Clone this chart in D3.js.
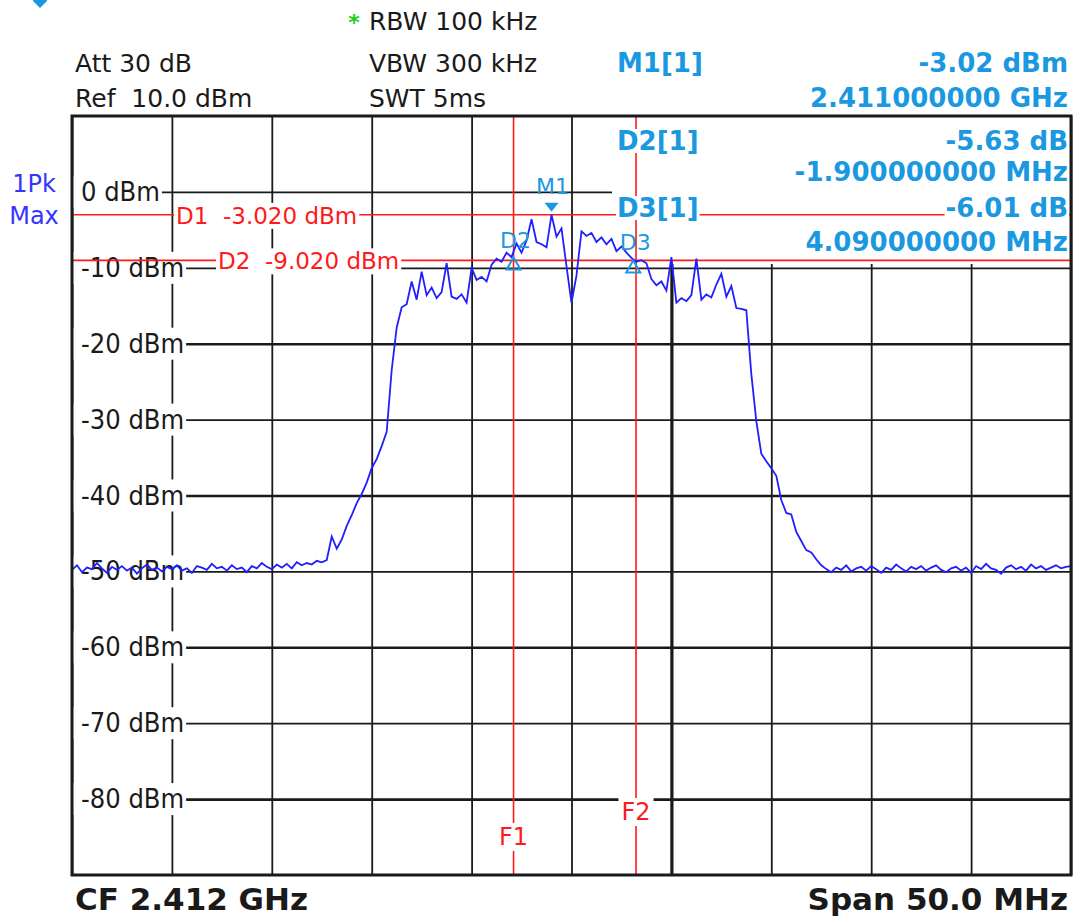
<!DOCTYPE html>
<html><head><meta charset="utf-8">
<script src="https://cdn.jsdelivr.net/npm/d3@7"></script>
<style>
html,body{margin:0;padding:0;background:#fff;}
svg{display:block;}
text{white-space:pre;}
</style></head><body>
<svg id="c" width="1077" height="918"></svg>
<script>
// ---------------- data ----------------
const sweepStartMHz = 2387;
const sweepStopMHz = 2437;
const sweepStepMHz = 0.25;
const traceLevels = [
-49.8,-49.2,-50.1,-49.5,-49.7,-48.9,-49.6,-50.2,-49.4,-49.8,
-49.3,-49.9,-49.5,-50.3,-49.6,-49.1,-49.8,-49.5,-50.0,-49.4,
-49.7,-49.2,-49.9,-49.6,-50.2,-49.3,-49.5,-49.8,-49.0,-49.6,
-49.4,-49.9,-49.2,-49.7,-49.5,-50.1,-49.3,-49.6,-48.9,-49.4,
-49.7,-49.1,-49.5,-49.0,-49.6,-48.8,-49.2,-48.9,
-49.1,-48.6,-48.8,-48.5,-45.4,-47.0,-45.8,-44.0,-42.6,-41.0,
-39.8,-38.3,-36.4,-35.2,-33.5,-31.6,-23.5,-17.9,-15.2,-14.8,
-11.8,-14.2,-10.5,-13.6,-12.6,-14.0,-13.2,-9.4,-13.8,-14.1,
-13.5,-14.6,-10.0,-11.6,-11.2,-11.8,-9.6,-8.8,-9.2,-8.0,
-8.6,-6.8,-8.0,-6.4,-3.6,-6.6,-6.9,-7.3,-3.02,-5.9,
-4.8,-9.8,-14.6,-11.0,-5.2,-5.8,-5.4,-6.6,-6.0,-6.9,
-6.2,-7.8,-7.2,-8.0,-8.7,-9.2,-9.0,-9.4,-11.5,-12.3,
-11.8,-13.0,-8.6,-14.6,-14.0,-14.4,-13.6,-8.8,-14.2,-13.5,
-13.9,-12.2,-10.8,-13.8,-12.4,-15.3,-15.4,-15.6,-24.0,-30.2,
-34.5,-35.5,-36.4,-37.4,-40.6,-42.3,-42.5,-44.8,-46.0,-47.2,
-47.5,-48.4,-49.2,-49.7,
-50.1,-49.5,-49.8,-49.2,-50.0,-49.6,-49.4,-49.9,-49.3,-49.7,
-50.2,-49.5,-49.8,-49.1,-49.6,-50.0,-49.4,-49.7,-49.3,-49.9,
-49.5,-49.2,-49.8,-50.1,-49.6,-49.4,-49.9,-49.5,-50.2,-49.3,
-49.7,-49.0,-49.6,-49.8,-50.3,-49.5,-49.2,-49.7,-49.4,-49.9,
-49.1,-49.6,-49.3,-49.8,-49.5,-49.2,-49.6,-49.4,-49.3
];
const refLevelDbm = 10;
const bottomLevelDbm = -90;
const yTickValues = [0,-10,-20,-30,-40,-50,-60,-70,-80];
const yTickLabels = ["0 dBm","-10 dBm","-20 dBm","-30 dBm","-40 dBm","-50 dBm","-60 dBm","-70 dBm","-80 dBm"];
const xGridMHz = [2387,2392,2397,2402,2407,2412,2417,2422,2427,2432,2437];
const displayLineNames = ["D1","D2"];
const displayLineLevels = [-3.02,-9.02];
const displayLineLabels = ["D1  -3.020 dBm","D2  -9.020 dBm"];
const freqLineNames = ["F1","F2"];
const freqLineMHz = [2409.1,2415.23];
const markerNames = ["M1","D2","D3"];
const markerMHz = [2411.0,2409.1,2415.09];
const markerLevels = [-3.02,-8.65,-9.03];
const headerLeft = ["Att 30 dB","Ref  10.0 dBm"];
const headerMid = ["RBW 100 kHz","VBW 300 kHz","SWT 5ms"];
const tableLeft = ["M1[1]","","D2[1]","","D3[1]",""];
const tableRight = ["-3.02 dBm","2.411000000 GHz","-5.63 dB","-1.900000000 MHz","-6.01 dB","4.090000000 MHz"];
const traceInfo = ["1Pk","Max"];
const footerLeft = "CF 2.412 GHz";
const footerRight = "Span 50.0 MHz";

// ---------------- layout ----------------
const L = 72, R = 1071, T = 116, B = 875;
const svg = d3.select("#c");
const x = d3.scaleLinear().domain([sweepStartMHz, sweepStopMHz]).range([L, R]);
const y = d3.scaleLinear().domain([refLevelDbm, bottomLevelDbm]).range([T, B]);
const RED = "#ff1a1a", BLUE = "#1f1fff", MBLUE = "#1a98e0", INK = "#1a1a1a";
const FONT = "'DejaVu Sans', Verdana, sans-serif";
const FONTC = "'DejaVu Sans Condensed', 'DejaVu Sans', sans-serif";

svg.append("rect").attr("width",1077).attr("height",918).attr("fill","#fff");

// grid via axes
const gH = svg.append("g").attr("transform",`translate(${L},0)`)
  .call(d3.axisLeft(y).tickValues(yTickValues).tickSize(-(R-L)).tickFormat(""));
gH.select(".domain").remove();
gH.selectAll(".tick line").attr("stroke",INK)
  .attr("stroke-width", d => (d % 20 === 0 && d !== 0) ? 2.6 : 1.8);
const gV = svg.append("g").attr("transform",`translate(0,${B})`)
  .call(d3.axisBottom(x).tickValues(xGridMHz).tickSize(-(B-T)).tickFormat(""));
gV.select(".domain").remove();
gV.selectAll(".tick line").attr("stroke",INK)
  .attr("stroke-width", d => d === 2417 ? 3.2 : 1.8);

// marker table background (covers grid)
svg.append("rect").attr("x",612).attr("y",T+1).attr("width",R-612-1).attr("height",264-T-1).attr("fill","#fff");

// y labels with white background
const yl = svg.append("g");
yTickValues.forEach((v,i) => {
  const t = yl.append("text").attr("x",81).attr("y",y(v)+9)
    .attr("font-family",FONTC).attr("font-size",27).attr("fill",INK).text(yTickLabels[i]);
  const bb = t.node().getBBox();
  yl.insert("rect","text").attr("x",L+1).attr("y",y(v)-16).attr("width",bb.x+bb.width+2-(L+1)).attr("height",32).attr("fill","#fff");
});

// red display lines & frequency lines
const red = svg.append("g");
displayLineLevels.forEach(v => red.append("line").attr("x1",L).attr("x2",R).attr("y1",y(v)).attr("y2",y(v))
  .attr("stroke",RED).attr("stroke-width",1.6));
freqLineMHz.forEach(f => red.append("line").attr("x1",x(f)).attr("x2",x(f)).attr("y1",T).attr("y2",B)
  .attr("stroke",RED).attr("stroke-width",1.6));

function bgText(g, tx, ty, str, opts){
  const t = g.append("text").attr("x",tx).attr("y",ty).text(str)
    .attr("font-family",opts.family).attr("font-size",opts.size).attr("fill",opts.fill)
    .attr("font-weight",opts.weight||"normal").attr("text-anchor",opts.anchor||"start");
  const bb = t.node().getBBox();
  const p = opts.pad==null?2:opts.pad;
  g.insert("rect",()=>t.node()).attr("x",bb.x-p).attr("y",bb.y+(opts.vtrim||0)).attr("width",bb.width+2*p).attr("height",bb.height-2*(opts.vtrim||0)).attr("fill","#fff");
  return t;
}
const dlX = [176,218];
displayLineLevels.forEach((v,i)=> bgText(red, dlX[i], y(v)+9, displayLineLabels[i], {family:FONT,size:23,fill:RED}));
const flY = [845,820];
freqLineMHz.forEach((f,i)=> bgText(red, x(f), flY[i], freqLineNames[i], {family:FONT,size:24,fill:RED,anchor:"middle",pad:3}));

// marker table texts
const tb = svg.append("g");
const rowY = [72,107,150,181,217,251];
rowY.forEach((ry,i)=>{
  if (tableLeft[i]) bgText(tb, 617, ry, tableLeft[i], {family:FONT,size:26,fill:MBLUE,weight:"bold",pad:1,vtrim:3});
  bgText(tb, 1068, ry, tableRight[i], {family:FONT,size:26,fill:MBLUE,weight:"bold",anchor:"end",pad:1,vtrim:3});
});

// trace
const line = d3.line().x((d,i)=>x(sweepStartMHz + i*sweepStepMHz)).y(d=>y(d));
svg.append("path").datum(traceLevels).attr("d",line).attr("fill","none")
  .attr("stroke",BLUE).attr("stroke-width",1.8).attr("stroke-linejoin","miter");

// markers
const mk = svg.append("g");
markerMHz.forEach((f,i)=>{
  const mx = x(f), my = y(markerLevels[i]);
  if (i === 0){
    mk.append("path").attr("d",`M${mx-7},${my-12}L${mx+7},${my-12}L${mx},${my-3}Z`).attr("fill",MBLUE);
    mk.append("text").attr("x",mx+1).attr("y",my-21).attr("text-anchor","middle").attr("font-family",FONT)
      .attr("font-size",22).attr("fill",MBLUE).text(markerNames[i]);
  } else {
    mk.append("path").attr("d",`M${mx},${my}L${mx+7},${my+12}L${mx-7},${my+12}Z`).attr("fill","none")
      .attr("stroke",MBLUE).attr("stroke-width",2);
    mk.append("text").attr("x",mx+2).attr("y",my-10).attr("text-anchor","middle").attr("font-family",FONT)
      .attr("font-size",22).attr("fill",MBLUE).text(markerNames[i]);
  }
});

// border
svg.append("rect").attr("x",L).attr("y",T).attr("width",R-L).attr("height",B-T)
  .attr("fill","none").attr("stroke",INK).attr("stroke-width",3);

// header
const hd = svg.append("g").attr("font-family",FONT).attr("font-size",25).attr("fill",INK);
headerLeft.forEach((s,i)=> hd.append("text").attr("x",75).attr("y",[72,107][i]).text(s));
headerMid.forEach((s,i)=> hd.append("text").attr("x",369).attr("y",[30,72,107][i]).text(s));
svg.append("text").attr("x",354).attr("y",30).attr("text-anchor","middle").attr("font-family",FONT)
  .attr("font-size",22).attr("font-weight","bold").attr("fill","#22cc22").text("*");
svg.append("path").attr("d","M33,-2L47,-2L47,1L40,8L33,1Z").attr("fill","#1a98e0");

// trace info
traceInfo.forEach((s,i)=> svg.append("text").attr("x",34).attr("y",[192,224][i]).attr("text-anchor","middle")
  .attr("font-family",FONT).attr("font-size",24).attr("fill","#3535ff").text(s));

// footer
svg.append("text").attr("x",75).attr("y",910).attr("font-family",FONT).attr("font-weight","bold")
  .attr("font-size",31).attr("fill",INK).text(footerLeft);
svg.append("text").attr("x",1068).attr("y",910).attr("text-anchor","end").attr("font-family",FONT).attr("font-weight","bold")
  .attr("font-size",31).attr("fill",INK).text(footerRight);
</script>
</body></html>
